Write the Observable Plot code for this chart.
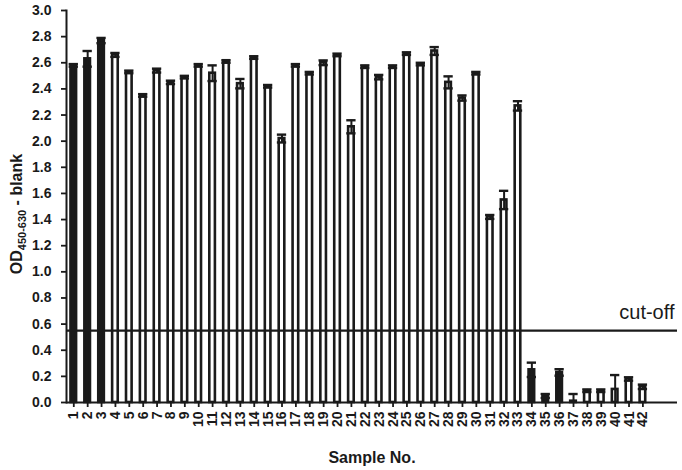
<!DOCTYPE html>
<html>
<head>
<meta charset="utf-8">
<script src="https://cdn.jsdelivr.net/npm/d3@7"></script>
<script src="https://cdn.jsdelivr.net/npm/@observablehq/plot@0.6"></script>
<style>
  html, body { margin: 0; padding: 0; background: white; }
  #chart svg { display: block; }
</style>
</head>
<body>
<div id="chart"></div>
<script>
// Sample numbers (x tick labels)
const samples = ["1","2","3","4","5","6","7","8","9","10","11","12","13","14","15","16","17","18","19","20","21","22","23","24","25","26","27","28","29","30","31","32","33","34","35","36","37","38","39","40","41","42"];
// Mean OD450-630 - blank
const values = [2.58, 2.63, 2.77, 2.66, 2.53, 2.35, 2.54, 2.45, 2.49, 2.58, 2.52, 2.61, 2.44, 2.64, 2.42, 2.02, 2.58, 2.52, 2.60, 2.66, 2.11, 2.57, 2.49, 2.57, 2.67, 2.59, 2.69, 2.45, 2.33, 2.52, 1.42, 1.55, 2.27, 0.25, 0.05, 0.23, 0.01, 0.09, 0.09, 0.10, 0.18, 0.12];
// Error (+/-)
const errors = [0.01, 0.06, 0.02, 0.015, 0.01, 0.01, 0.015, 0.013, 0.01, 0.01, 0.06, 0.01, 0.036, 0.01, 0.01, 0.03, 0.01, 0.01, 0.018, 0.01, 0.05, 0.01, 0.017, 0.01, 0.01, 0.01, 0.03, 0.046, 0.02, 0.01, 0.015, 0.07, 0.036, 0.055, 0.015, 0.025, 0.055, 0.01, 0.01, 0.11, 0.013, 0.017];
// Samples drawn as solid bars
const solidSamples = ["1","2","3","34","35","36"];
// Y ticks
const yTicks = [0, 0.2, 0.4, 0.6, 0.8, 1.0, 1.2, 1.4, 1.6, 1.8, 2.0, 2.2, 2.4, 2.6, 2.8, 3.0];
const cutoff = 0.55;
const cutoffLabel = "cut-off";
const xLabel = "Sample No.";
const yLabelMain = "OD";
const yLabelSub = "450-630";
const yLabelRest = " - blank";

const ink = "#1a1a1a";
const data = samples.map((s, i) => ({sample: s, value: values[i], err: errors[i], solid: solidSamples.includes(s)}));

const chart = Plot.plot({
  width: 682,
  height: 470,
  marginLeft: 66,
  marginRight: 5,
  marginTop: 10,
  marginBottom: 68,
  style: {fontFamily: "'Liberation Sans', Arial, sans-serif", color: ink, background: "white"},
  x: {type: "band", domain: samples, range: [66, 649.7], paddingInner: 0.33, paddingOuter: 0.19},
  y: {domain: [0, 3]},
  marks: [
    Plot.axisY({ticks: yTicks, tickFormat: d3.format(".1f"), tickSize: 5, tickPadding: 10, fontSize: 14, fontWeight: "bold", strokeWidth: 1.8, label: null}),
    Plot.axisX({tickSize: 5, tickPadding: 4, tickRotate: -90, fontSize: 14, fontWeight: "bold", strokeWidth: 1.8, label: null}),
    Plot.frame({anchor: "left", stroke: ink, strokeWidth: 2}),
    Plot.barY(data, {x: "sample", y: "value", fill: d => d.solid ? ink : "white", stroke: ink, strokeWidth: 2.6, insetLeft: 1.85, insetRight: 1.85}),
    Plot.ruleX(data, {x: "sample", y1: d => Math.max(0, d.value - d.err), y2: d => d.value + d.err, stroke: ink, strokeWidth: 2}),
    Plot.tickY(data, {x: "sample", y: d => d.value + d.err, stroke: ink, strokeWidth: 2.4}),
    Plot.tickY(data.filter(d => d.value - d.err > 0), {x: "sample", y: d => d.value - d.err, stroke: ink, strokeWidth: 2.4}),
    Plot.ruleY([0], {stroke: ink, strokeWidth: 2}),
    Plot.ruleY([cutoff], {stroke: ink, strokeWidth: 2.2}),
    Plot.text([cutoffLabel], {y: cutoff, frameAnchor: "right", textAnchor: "end", dx: -3, dy: -18, fontSize: 20, fill: ink}),
    Plot.text([xLabel], {frameAnchor: "bottom", dy: 60, fontSize: 16, fontWeight: "bold", fill: ink})
  ]
});

// Y axis label with subscript
const t = d3.select(chart).append("text")
  .attr("transform", "translate(22,214) rotate(-90)")
  .attr("text-anchor", "middle")
  .attr("font-size", 16)
  .attr("font-weight", "bold")
  .attr("fill", ink);
t.append("tspan").text(yLabelMain);
t.append("tspan").attr("font-size", 11).attr("dy", 4).text(yLabelSub);
t.append("tspan").attr("dy", -4).text(yLabelRest);

document.getElementById("chart").appendChild(chart);
</script>
</body>
</html>
